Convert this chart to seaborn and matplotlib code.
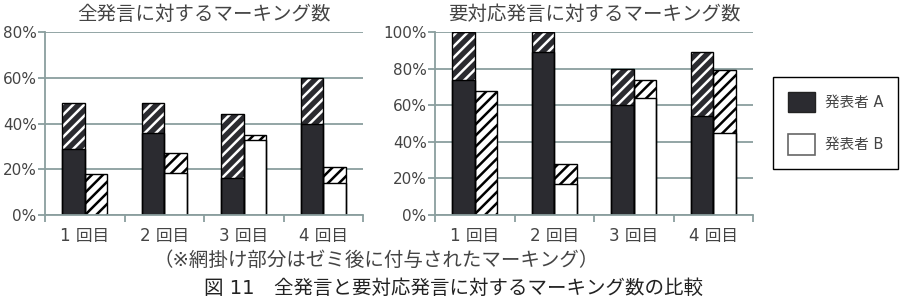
import matplotlib
matplotlib.use("Agg")
import matplotlib.pyplot as plt
import seaborn as sns
import pandas as pd
from matplotlib.patches import Patch
from matplotlib.ticker import FixedLocator, PercentFormatter

# ---------------- data ----------------
rounds = ["1 回目", "2 回目", "3 回目", "4 回目"]
speakers = ["発表者 A", "発表者 B"]

# 全発言に対するマーキング数 (%)
all_A_before = [29, 36, 16, 40]
all_A_total = [49, 49, 44, 60]
all_B_before = [0, 18.5, 33, 14]
all_B_total = [18, 27, 35, 21]

# 要対応発言に対するマーキング数 (%)
req_A_before = [74, 89, 60, 54]
req_A_total = [100, 100, 80, 89]
req_B_before = [0, 17, 64, 45]
req_B_total = [68, 28, 74, 79]

titles = ["全発言に対するマーキング数", "要対応発言に対するマーキング数"]
note = "（※網掛け部分はゼミ後に付与されたマーキング）"
caption = "図 11　全発言と要対応発言に対するマーキング数の比較"

# ---------------- style ----------------
sns.set_theme(style="white")
plt.rcParams["font.family"] = ["DejaVu Sans", "Noto Sans CJK JP"]
plt.rcParams["hatch.linewidth"] = 1.8

DARK = "#2b2b30"
GRID = "#8a9e9e"
TXT = "#444444"


def make_df(a_before, a_total, b_before, b_total):
    rows = []
    for i, r in enumerate(rounds):
        rows.append({"round": r, "speaker": speakers[0], "before": a_before[i], "total": a_total[i]})
        rows.append({"round": r, "speaker": speakers[1], "before": b_before[i], "total": b_total[i]})
    return pd.DataFrame(rows)


dfs = [make_df(all_A_before, all_A_total, all_B_before, all_B_total),
       make_df(req_A_before, req_A_total, req_B_before, req_B_total)]
ymax = [80, 100]

fig = plt.figure(figsize=(9.06, 3.04), dpi=100)
W, H = 906, 304
boxes = [(45, 363, 32, 215), (435, 753, 32, 215)]
BW = 0.57

for k, (df, (x0, x1, yt, yb)) in enumerate(zip(dfs, boxes)):
    ax = fig.add_axes([x0 / W, 1 - yb / H, (x1 - x0) / W, (yb - yt) / H])
    pal_fill = {speakers[0]: DARK, speakers[1]: "white"}
    # hatched layer (total = before + after-seminar)
    sns.barplot(data=df, x="round", y="total", hue="speaker", hue_order=speakers,
                order=rounds, palette=pal_fill, width=BW, errorbar=None,
                legend=False, linewidth=0, saturation=1, ax=ax)
    n0 = len(ax.patches)
    for p in ax.patches[:n0]:
        fc = p.get_facecolor()
        is_dark = fc[0] < 0.5
        p.set_hatch("///")
        p.set_edgecolor("white" if is_dark else "black")
        p.set_linewidth(0)
    # solid layer (before seminar)
    sns.barplot(data=df, x="round", y="before", hue="speaker", hue_order=speakers,
                order=rounds, palette=pal_fill, width=BW, errorbar=None,
                legend=False, linewidth=1.0, edgecolor="black", saturation=1, ax=ax)
    # outline of the total bars
    sns.barplot(data=df, x="round", y="total", hue="speaker", hue_order=speakers,
                order=rounds, palette={speakers[0]: "black", speakers[1]: "black"},
                width=BW, errorbar=None, legend=False, fill=False, linewidth=1.0,
                saturation=1, ax=ax)

    ax.set_xlim(-0.5, 3.5)
    ax.set_ylim(0, ymax[k])
    ax.yaxis.set_major_locator(FixedLocator(list(range(0, ymax[k] + 1, 20))))
    ax.yaxis.set_major_formatter(PercentFormatter(decimals=0))
    ax.xaxis.set_minor_locator(FixedLocator([-0.5, 0.5, 1.5, 2.5, 3.5]))
    ax.tick_params(axis="x", which="major", length=0, pad=9, labelsize=12, labelcolor=TXT)
    ax.tick_params(axis="x", which="minor", length=5, width=1.3, color=GRID, bottom=True)
    ax.tick_params(axis="y", length=5, width=1.3, color=GRID, left=True, pad=1,
                   labelsize=11, labelcolor=TXT)
    ax.set_xlabel("")
    ax.set_ylabel("")
    ax.grid(axis="y", color=GRID, linewidth=1.3)
    ax.grid(axis="x", visible=False)
    ax.set_axisbelow(True)
    for s in ["top", "right"]:
        ax.spines[s].set_visible(False)
    for s in ["left", "bottom"]:
        ax.spines[s].set_color(GRID)
        ax.spines[s].set_linewidth(1.3)
    ax.set_title(titles[k], fontsize=14, color=TXT, pad=9)

handles = [Patch(facecolor=DARK, edgecolor="#222222"),
           Patch(facecolor="white", edgecolor="#666666", linewidth=1.2)]
leg = fig.legend(handles=handles, labels=speakers, loc="upper left",
                 bbox_to_anchor=(773 / W, 1 - 77 / H), frameon=True, fancybox=False,
                 edgecolor="black", framealpha=1, fontsize=10.5, handlelength=1.85,
                 handleheight=1.75, labelspacing=1.55, borderpad=1.0, handletextpad=0.7,
                 borderaxespad=0)
leg.get_frame().set_linewidth(1.0)
for t in leg.get_texts():
    t.set_color(TXT)

fig.text(376 / W, 1 - 260 / H, note, ha="center", va="center", fontsize=14, color=TXT)
fig.text(454 / W, 1 - 288 / H, caption, ha="center", va="center", fontsize=14, color="#222222")

fig.savefig("out.png", dpi=100, facecolor="white")
